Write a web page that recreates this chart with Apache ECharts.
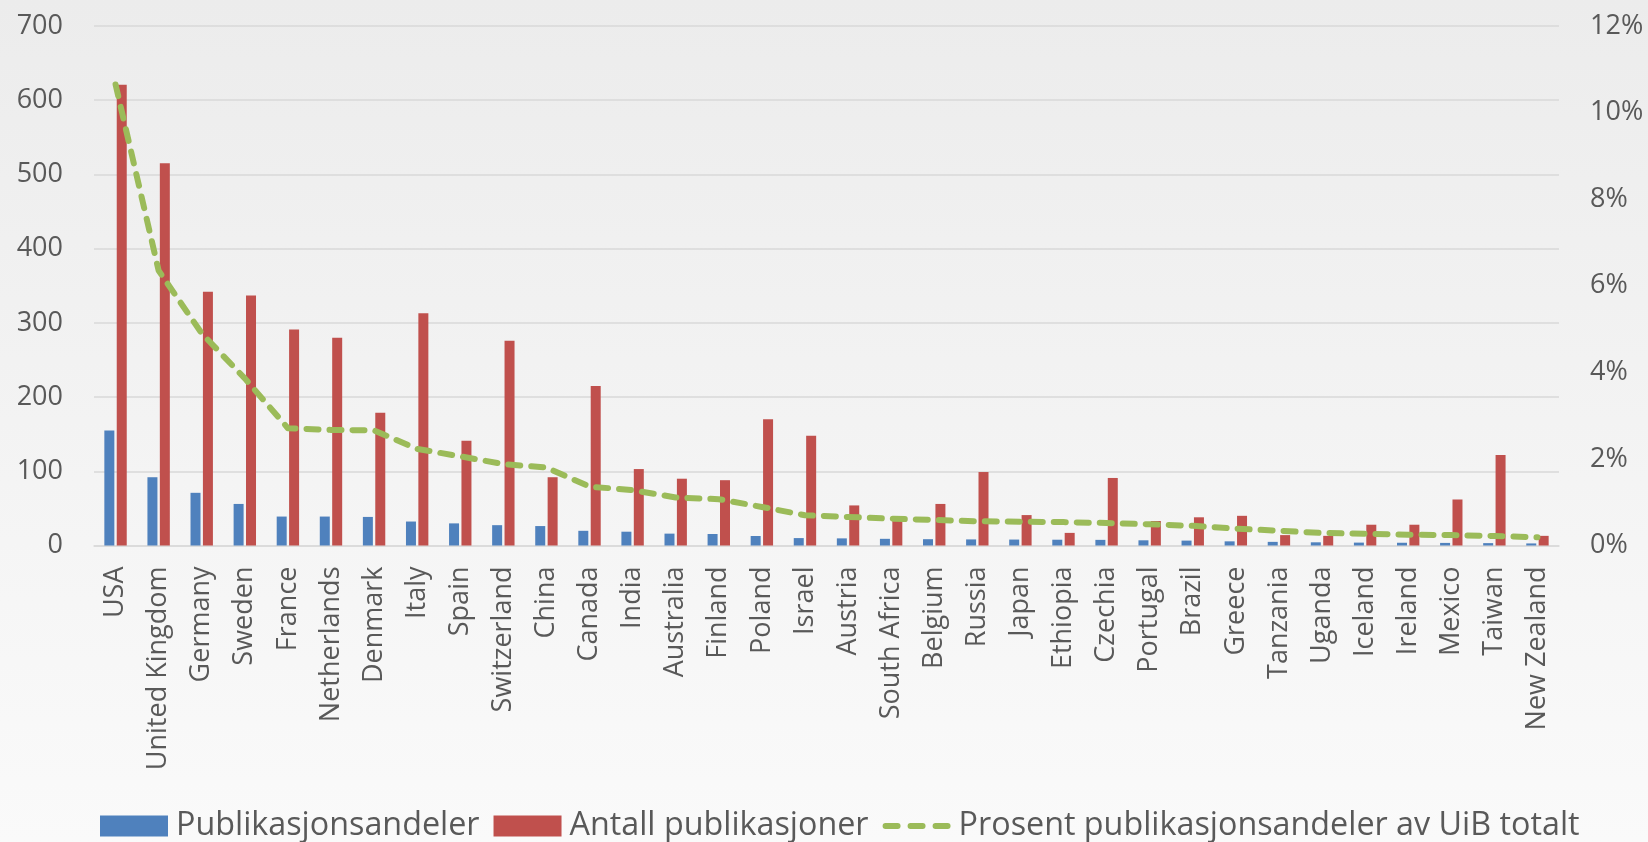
<!DOCTYPE html>
<html>
<head>
<meta charset="utf-8">
<script src="https://cdn.jsdelivr.net/npm/echarts@6/dist/echarts.min.js"></script>
<style>
  html, body { margin: 0; padding: 0; width: 1648px; height: 842px; overflow: hidden; }
  #chart { width: 1648px; height: 842px; }
</style>
</head>
<body>
<div id="chart"></div>
<script>
const categories = ["USA","United Kingdom","Germany","Sweden","France","Netherlands","Denmark","Italy","Spain","Switzerland","China","Canada","India","Australia","Finland","Poland","Israel","Austria","South Africa","Belgium","Russia","Japan","Ethiopia","Czechia","Portugal","Brazil","Greece","Tanzania","Uganda","Iceland","Ireland","Mexico","Taiwan","New Zealand"];

const publikasjonsandeler = [155, 92, 71, 56, 39, 39, 38.5, 32.3, 29.8, 27.4, 26.2, 19.8, 18.6, 16, 15.5, 12.8, 10, 9.6, 9.0, 8.5, 8.2, 8.0, 7.8, 7.6, 7.0, 6.6, 5.6, 4.9, 4.3, 3.9, 3.7, 3.5, 3.2, 2.8];

const antallPublikasjoner = [621, 515, 342, 337, 291, 280, 179, 313, 141, 276, 92, 215, 103, 90, 88, 170, 148, 54, 34, 56, 99, 41, 17, 91, 33, 38, 40, 14, 13, 28, 28, 62, 122, 13];

const prosentAvTotalt = [10.65, 6.35, 4.9, 3.86, 2.71, 2.67, 2.66, 2.23, 2.06, 1.88, 1.8, 1.36, 1.28, 1.11, 1.07, 0.89, 0.70, 0.66, 0.62, 0.59, 0.56, 0.55, 0.54, 0.52, 0.49, 0.455, 0.39, 0.34, 0.29, 0.27, 0.25, 0.24, 0.22, 0.19];

const leftTicks = { min: 0, max: 700, interval: 100 };
const rightTicks = { min: 0, max: 12, interval: 2 };

const FONT = '"Open Sans", "Noto Sans", sans-serif';
const TEXT = '#595959';
const GRID = '#d9d9d9';

// legend icon for the dashed line: three rounded dashes inside a 68x21 box
const dashIcon = 'path://M0,0' +
  'M3,7.5h12a3,3 0 0 1 0,6h-12a3,3 0 0 1 0,-6z' +
  'M28,7.5h12a3,3 0 0 1 0,6h-12a3,3 0 0 1 0,-6z' +
  'M53,7.5h12a3,3 0 0 1 0,6h-12a3,3 0 0 1 0,-6z' +
  'M68,21';

const chart = echarts.init(document.getElementById('chart'), null, { renderer: 'canvas' });
chart.setOption({
  animation: false,
  backgroundColor: new echarts.graphic.LinearGradient(0, 0, 0, 1, [
    { offset: 0, color: '#ececec' },
    { offset: 1, color: '#fafafa' }
  ]),
  textStyle: { fontFamily: FONT },
  grid: { left: 94, right: 89, top: 26, bottom: 296.5, containLabel: false },
  legend: {
    top: 801,
    left: 95,
    itemWidth: 68,
    itemHeight: 21,
    itemGap: 14,
    textStyle: { fontFamily: FONT, fontSize: 32.3, color: TEXT, padding: [0, 0, 0, 3], lineHeight: 40 },
    data: [
      { name: 'Publikasjonsandeler', icon: 'rect' },
      { name: 'Antall publikasjoner', icon: 'rect' },
      { name: 'Prosent publikasjonsandeler av UiB totalt', icon: dashIcon, itemStyle: { color: '#9bbb59', borderWidth: 0 } }
    ]
  },
  xAxis: {
    type: 'category',
    data: categories,
    axisTick: { show: false },
    axisLine: { lineStyle: { color: GRID, width: 1.5 } },
    axisLabel: { rotate: 90, interval: 0, margin: 21, fontSize: 27, color: TEXT, fontFamily: FONT }
  },
  yAxis: [
    {
      type: 'value',
      min: leftTicks.min, max: leftTicks.max, interval: leftTicks.interval,
      axisLine: { show: false }, axisTick: { show: false },
      splitLine: { lineStyle: { color: GRID, width: 1.5 } },
      axisLabel: { margin: 31, fontSize: 27, color: TEXT, fontFamily: FONT }
    },
    {
      type: 'value',
      min: rightTicks.min, max: rightTicks.max, interval: rightTicks.interval,
      axisLine: { show: false }, axisTick: { show: false },
      splitLine: { show: false },
      axisLabel: { margin: 31, fontSize: 27, color: TEXT, fontFamily: FONT, formatter: '{value}%' }
    }
  ],
  series: [
    {
      name: 'Publikasjonsandeler',
      type: 'bar',
      data: publikasjonsandeler,
      barWidth: 10,
      barGap: '24%',
      itemStyle: { color: '#4f81bd' }
    },
    {
      name: 'Antall publikasjoner',
      type: 'bar',
      data: antallPublikasjoner,
      barWidth: 10,
      barGap: '24%',
      itemStyle: { color: '#c0504d' }
    },
    {
      name: 'Prosent publikasjonsandeler av UiB totalt',
      type: 'line',
      yAxisIndex: 1,
      data: prosentAvTotalt,
      symbol: 'none',
      smooth: false,
      z: 5,
      itemStyle: { color: '#9bbb59' },
      lineStyle: { color: '#9bbb59', width: 6, type: [12, 11], cap: 'round', join: 'round' }
    }
  ]
});
</script>
</body>
</html>
